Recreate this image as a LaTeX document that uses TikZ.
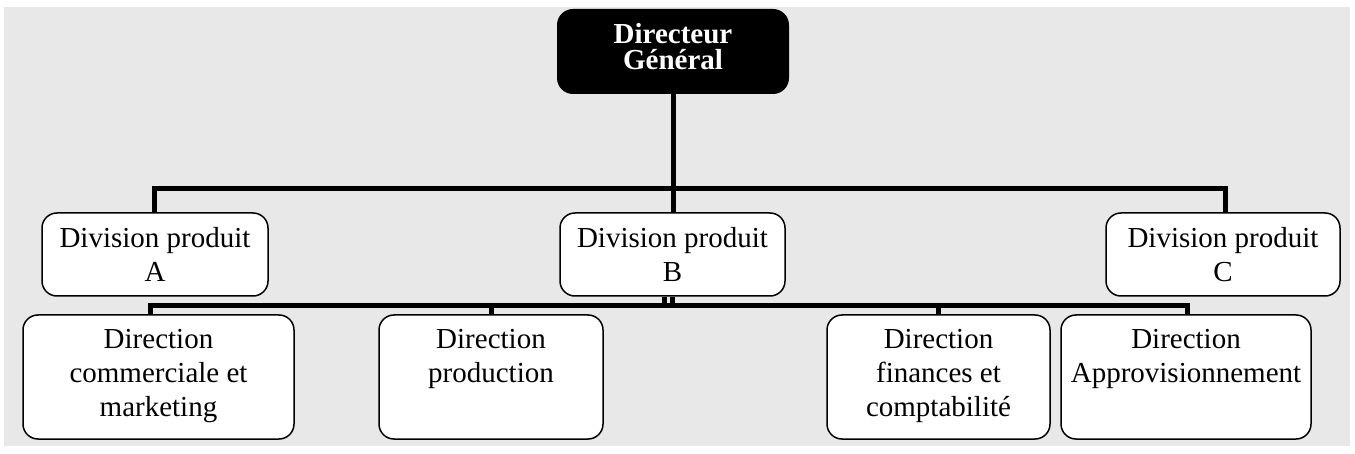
\documentclass[tikz,border=0pt]{standalone}
\usepackage{fontspec}
\setmainfont{Liberation Serif}
\definecolor{bggray}{HTML}{E8E8E8}
\begin{document}
\begin{tikzpicture}[x=1pt,y=-1pt,
  dgbox/.style={fill=black,text=white,rounded corners=16,inner sep=0,
    minimum width=232,minimum height=85,align=center,
    font=\fontsize{29}{26}\selectfont\bfseries,text depth=11},
  divbox/.style={draw=black,line width=1.5,fill=white,rounded corners=15,inner sep=0,
    minimum height=83,align=center,font=\fontsize{29}{33.5}\selectfont},
  dirbox/.style={draw=black,line width=1.5,fill=white,rounded corners=15,inner sep=0,
    minimum height=124,align=center,font=\fontsize{29}{34}\selectfont,
    text height=88,text depth=10},
  bus/.style={line width=5,black}]
\useasboundingbox (0,0) rectangle (1355,454);
\fill[white] (0,0) rectangle (1355,454);
\fill[bggray] (4,7) rectangle (1350,446);

\node[dgbox] (dg) at (673,51.5) {Directeur\\Général};

\node[divbox,minimum width=226] (dA) at (155,254.5) {Division produit\\A};
\node[divbox,minimum width=225] (dB) at (672.5,254.5) {Division produit\\B};
\node[divbox,minimum width=234] (dC) at (1223,254.5) {Division produit\\C};

\node[dirbox,minimum width=271] (d1) at (158.5,377) {Direction\\commerciale et\\marketing};
\node[dirbox,minimum width=224] (d2) at (491,377) {Direction\\production\\\mbox{}};
\node[dirbox,minimum width=223] (d3) at (938.5,377) {Direction\\finances et\\comptabilité};
\node[dirbox,minimum width=250] (d4) at (1186,377) {Direction\\Approvisionnement\\\mbox{}};

\coordinate (b1) at (673,189);
\coordinate (b2) at (672,305.5);

% level 1 connectors
\draw[bus] (dg.south) -- (dg.south |- dB.north);
\draw[bus] ([xshift=-1]dA.north) |- (b1) -| ([xshift=2]dC.north);

% level 2 connectors
\draw[bus] ([xshift=-8]dB.south) -- ([xshift=-8]dB.south |- b2);
\draw[bus] (dB.south) -- (dB.south |- b2);
\draw[bus] ([xshift=-8.5]d1.north) |- (b2) -| ([xshift=1]d4.north);
\draw[bus] (d2.north) -- (d2.north |- b2);
\draw[bus] (d3.north) -- (d3.north |- b2);
\end{tikzpicture}
\end{document}
